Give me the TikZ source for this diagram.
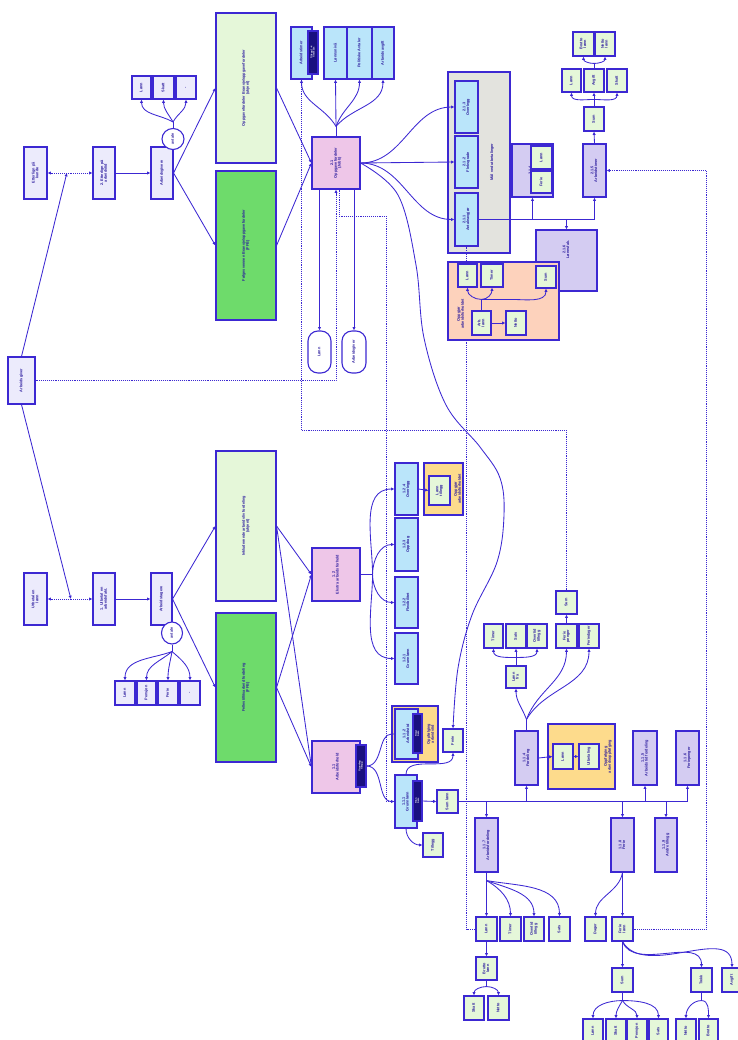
\documentclass[tikz,border=0pt]{standalone}
\usepackage{fontspec}
\setsansfont{Liberation Sans}
\usetikzlibrary{arrows.meta,positioning,calc,shapes.geometric,shapes.misc}
\definecolor{linec}{HTML}{3C28D2}
\definecolor{textc}{HTML}{2B1B9E}
\definecolor{lav}{HTML}{ECEBFC}
\definecolor{lgreen}{HTML}{E5F7D9}
\definecolor{dgreen}{HTML}{6EDB6B}
\definecolor{pink}{HTML}{EEC6E8}
\definecolor{lblue}{HTML}{BAE5FA}
\definecolor{grayc}{HTML}{E3E3DE}
\definecolor{salmon}{HTML}{FDD2BC}
\definecolor{orangec}{HTML}{FDDB8C}
\definecolor{purp}{HTML}{D4CCF2}
\definecolor{navy}{HTML}{1A1080}
\pgfdeclarelayer{bg}
\pgfdeclarelayer{mid}
\pgfsetlayers{bg,mid,main}
\renewcommand{\arraystretch}{0.8}
\newcommand{\vt}[1]{\rotatebox{90}{\begin{tabular}{@{}c@{}}#1\end{tabular}}}

\begin{document}
\begin{tikzpicture}[x=1pt,y=-1pt,
    bx/.style={draw=linec, line width=1.1pt, inner sep=0pt, text=textc,
      font=\sffamily\bfseries\fontsize{3.8}{4.3}\selectfont},
    sz/.style 2 args={minimum width=#1, minimum height=#2},
    nv/.style={bx, fill=navy, text=white, font=\sffamily\bfseries\fontsize{2.4}{2.8}\selectfont},
    lbl/.style={inner sep=0pt, text=textc, font=\sffamily\bfseries\fontsize{3.8}{4.3}\selectfont},
    ln/.style={draw=linec, line width=0.85pt},
    arr/.style={-{Latex[length=3.3pt,width=3.3pt]}},
    dots/.style={draw=linec, line width=0.85pt, dash pattern=on 1pt off 0.9pt}]
\useasboundingbox (0,0) rectangle (737,1040);

% --- Root and the two goals ---
\node[bx, fill=lav, sz={27}{47}] (agiver) at (21.5,380.5) {\vt{Arbeidsgiver}};
\node[bx, fill=lav, sz={23}{52}] (kunde) at (35.5,173) {\vt{Etterlign på\\kunde}};
\node[bx, fill=lav, sz={22}{52}] (arbtid) at (104,173) {\vt{2. Etterlign på\\arbeidstid}};
\node[bx, fill=lav, sz={22}{52}] (agivere) at (162,173) {\vt{Arbeidsgivere}};
\node[bx, ellipse, fill=white, sz={22}{21}] (circ1) at (173,139) {\vt{avtale}};
\node[bx, fill=lav, sz={19}{23}] (sk1) at (141.5,87.5) {\vt{Lønn}};
\node[bx, fill=lav, sz={21}{23}] (sk2) at (163.5,87.5) {\vt{Skatt}};
\node[bx, fill=lav, sz={20}{23}] (sk3) at (186,87.5) {\vt{-}};
\node[bx, fill=lav, sz={23}{52}] (lonn) at (35.5,599) {\vt{Utbetal en\\lønn}};
\node[bx, fill=lav, sz={22}{52}] (arbfakt) at (104,599) {\vt{1. Utbetal en\\arbeidsfakt.}};
\node[bx, fill=lav, sz={21}{52}] (atagere) at (161.5,599) {\vt{Arbeidstagere}};
\node[bx, ellipse, fill=white, sz={21}{22}] (circ2) at (172,633) {\vt{avtale}};
\node[bx, fill=lav, sz={20}{24}] (sb1) at (125,693) {\vt{Lønn}};
\node[bx, fill=lav, sz={19}{24}] (sb2) at (146.5,693) {\vt{Pensjon}};
\node[bx, fill=lav, sz={20}{24}] (sb3) at (168,693) {\vt{Ferie}};
\node[bx, fill=lav, sz={20}{24}] (sb4) at (190,693) {\vt{-}};

% --- Big boxes ---
\node[bx, fill=lgreen, sz={60}{150}] (lgreen1) at (246,88) {\vt{Oppgavefordeler Bransje/oppgavefordeler\\(ukjent)}};
\node[bx, fill=dgreen, sz={60}{149}] (green1) at (246,245.5) {\vt{Følgesvennen Bransje/oppgavefordeler\\(FFB)}};
\node[bx, fill=lgreen, sz={60}{150}] (lgreen2) at (246,526) {\vt{Inkluderende arbeidsliv fordeling\\(ukjent)}};
\node[bx, fill=dgreen, sz={60}{149}] (green2) at (246,687.5) {\vt{Fellestillitsarbeid fordeling\\(FFB)}};

% --- 2.1 ---
\node[bx, fill=pink, sz={48}{52}] (c21) at (336,163) {\vt{2.1\\Oppgavefordeler\\(Jobb)}};
\node[bx, fill=lblue, sz={21}{52}] (t1) at (301.5,53) {\vt{Arbeidstimer}};
\node[nv, sz={10}{43}] (nv1) at (313,52.5) {\vt{Tillegg 1--4\\Timesats}};
\node[bx, fill=lblue, sz={23}{52}] (t2) at (335.5,53) {\vt{Lønnsnivå}};
\node[bx, fill=lblue, sz={25}{52}] (t3) at (359.5,53) {\vt{Politiske Avtaler}};
\node[bx, fill=lblue, sz={22}{52}] (t4) at (383,53) {\vt{Arbeidsavgift}};
\node[bx, rounded corners=10pt, fill=white, sz={23}{42}] (ov1) at (319.5,352) {\vt{Lønn}};
\node[bx, rounded corners=10pt, fill=white, sz={24}{42}] (ov2) at (354,352) {\vt{Arbeidsgiver}};
\node[bx, fill=lblue, sz={23}{52}] (b213) at (466.5,107) {\vt{2.1.3\\Overlegg}};
\node[bx, fill=lblue, sz={23}{52}] (b212) at (466.5,162) {\vt{2.1.2\\Fleksgrade}};
\node[bx, fill=lblue, sz={23}{53}] (b211) at (466.5,219.5) {\vt{2.1.1\\Avtaleavgjør}};
\node[lbl] (graylbl) at (492,162) {\vt{Mål ved utbetalinger}};
\node[bx, fill=purp, sz={41}{53}] (p214) at (532.5,170.5) {\vt{2.1.4\\Forsvarsplan}\hspace{21pt}};
\node[bx, fill=lgreen, sz={21}{23}] (g214a) at (541.5,157.5) {\vt{Lønn}};
\node[bx, fill=lgreen, sz={21}{22}] (g214b) at (541.5,182) {\vt{Ferie}};
\node[bx, fill=purp, sz={23}{53}] (p215) at (594.5,170.5) {\vt{2.1.5\\Arbeidstimer}};
\node[bx, fill=lgreen, sz={20}{24}] (g215) at (594,119) {\vt{Sum}};
\node[bx, fill=lgreen, sz={19}{23}] (k1) at (571.5,80.5) {\vt{Lønn}};
\node[bx, fill=lgreen, sz={20}{23}] (k2) at (594,80.5) {\vt{Avgift}};
\node[bx, fill=lgreen, sz={20}{23}] (k3) at (617,80.5) {\vt{Skatt}};
\node[bx, fill=lgreen, sz={21}{24}] (k4) at (583.5,44) {\vt{Brutto\\lønn}};
\node[bx, fill=lgreen, sz={20}{24}] (k5) at (605,44) {\vt{Netto\\lønn}};
% salmon group
\node[bx, fill=lgreen, sz={19}{23}] (s1) at (467.5,275.5) {\vt{Lønn}};
\node[bx, fill=lgreen, sz={22}{23}] (s2) at (492,275.5) {\vt{Timer}};
\node[bx, fill=lgreen, sz={20}{22}] (s3) at (546,277) {\vt{Sum}};
\node[bx, fill=lgreen, sz={19}{24}] (s4) at (481.5,323) {\vt{Arb.\\lønn}};
\node[bx, fill=lgreen, sz={20}{24}] (s5) at (516,323) {\vt{Netto}};
\node[lbl] (sallbl) at (461,314) {\vt{Oppgjør\\arbeidsforholdet}};

% --- 1.2 and 1.1 ---
\node[bx, fill=pink, sz={48}{53}] (c12) at (336,574.5) {\vt{1.2\\Ekstra arbeidsforhold}};
\node[bx, fill=pink, sz={48}{52}] (c11) at (336,767) {\vt{1.1\\Arbeidsforhold}\hspace{10pt}};
\node[nv, sz={10}{42}] (nv2) at (361,766) {\vt{Grunnlag\\Tillegg}};
\node[bx, fill=lblue, sz={23}{52}] (b124) at (406.5,489) {\vt{1.2.4\\Overlegg}};
\node[bx, fill=lgreen, sz={21}{29}] (g124) at (439.5,490.5) {\vt{Lønn\\tillegg}};
\node[lbl] (or124lbl) at (458,489) {\vt{Oppgjør\\arbeidsforholdet}};
\node[bx, fill=lblue, sz={23}{53}] (b123) at (406.5,544.5) {\vt{1.2.3\\Oppdrag}};
\node[bx, fill=lblue, sz={23}{51}] (b122) at (406.5,602.5) {\vt{1.2.2\\Flexibilitet}};
\node[bx, fill=lblue, sz={23}{51}] (b121) at (406.5,658.5) {\vt{1.2.1\\Grunnlønn}};
\node[bx, fill=lblue, sz={23}{50}] (b112) at (406.5,734) {\vt{1.1.2\\Arbeidstid}\hspace{6pt}};
\node[nv, sz={9}{39}] (nv3) at (417.5,733.5) {\vt{Timer\\Sats}};
\node[lbl] (or112lbl) at (431,734) {\vt{Oppfølging\\arbeidstid}};
\node[bx, fill=lblue, sz={22}{53}] (b111) at (406,801.5) {\vt{1.1.1\\Grunnlønn}\hspace{6pt}};
\node[nv, sz={9}{40}] (nv4) at (417.5,801) {\vt{Trinn\\Sats}};
\node[bx, fill=lgreen, sz={20}{23}] (bx1) at (453,740.5) {\vt{Ferie}};
\node[bx, fill=lgreen, sz={21}{23}] (g111a) at (447.5,801.5) {\vt{Sum lønn}};
\node[bx, fill=lgreen, sz={20}{24}] (g111b) at (433,845) {\vt{Tillegg}};

% --- 1.1.x ---
\node[bx, fill=purp, sz={23}{54}] (p114) at (526.5,758) {\vt{1.1.4\\Fordeling}};
\node[bx, fill=lgreen, sz={20}{25}] (o1) at (563,756.5) {\vt{Lønn}};
\node[bx, fill=lgreen, sz={20}{25}] (o2) at (589,756.5) {\vt{Utbetaling}};
\node[lbl] (or114lbl) at (608,756.5) {\vt{Oppfølging\\arbeidsoppfølging}};
\node[bx, fill=purp, sz={24}{54}] (p115) at (645,758) {\vt{1.1.5\\Arbeidstid fordeling}};
\node[bx, fill=purp, sz={23}{54}] (p116) at (687.5,758) {\vt{1.1.6\\Feriepenger}};
\node[bx, fill=lgreen, sz={20}{22}] (g1) at (516,677) {\vt{Lønn\\fra}};
\node[bx, fill=lgreen, sz={19}{24}] (r1) at (493.5,636) {\vt{Timer}};
\node[bx, fill=lgreen, sz={20}{24}] (r2) at (516,636) {\vt{Sats}};
\node[bx, fill=lgreen, sz={20}{24}] (r3) at (537,636) {\vt{Overtid\\tillegg}};
\node[bx, fill=lgreen, sz={21}{24}] (r4) at (566.5,636) {\vt{Ferie\\penger}};
\node[bx, fill=lgreen, sz={20}{24}] (r5) at (589,636) {\vt{Feriedager}};
\node[bx, fill=lgreen, sz={21}{23}] (r6) at (566.5,602.5) {\vt{Sum}};
\node[bx, fill=purp, sz={23}{54}] (p117) at (486.5,845) {\vt{1.1.7\\Arbeidsfordeling}};
\node[bx, fill=purp, sz={23}{54}] (p118) at (622.5,845) {\vt{1.1.8\\Ferie}};
\node[bx, fill=purp, sz={22}{54}] (p119) at (666,845) {\vt{1.1.9\\Andre tillegg}};
\node[bx, fill=lgreen, sz={21}{24}] (q1) at (486.5,929) {\vt{Lønn}};
\node[bx, fill=lgreen, sz={21}{24}] (q2) at (510.5,929) {\vt{Timer}};
\node[bx, fill=lgreen, sz={20}{24}] (q3) at (534,929) {\vt{Overtid\\tillegg}};
\node[bx, fill=lgreen, sz={21}{24}] (q4) at (559.5,929) {\vt{Sats}};
\node[bx, fill=lgreen, sz={21}{23}] (q5) at (486.5,968.5) {\vt{Brutto\\lønn}};
\node[bx, fill=lgreen, sz={20}{24}] (q6) at (474,1008) {\vt{Skatt}};
\node[bx, fill=lgreen, sz={21}{24}] (q7) at (498.5,1008) {\vt{Netto}};
\node[bx, fill=lgreen, sz={21}{24}] (u1) at (595.5,929) {\vt{Dager}};
\node[bx, fill=lgreen, sz={21}{24}] (u2) at (622.5,929) {\vt{Ferie\\lønn}};
\node[bx, fill=lgreen, sz={21}{24}] (u3) at (622.5,980) {\vt{Sum}};
\node[bx, fill=lgreen, sz={21}{24}] (u4) at (701.5,980) {\vt{Trekk}};
\node[bx, fill=lgreen, sz={20}{24}] (u5) at (732,980) {\vt{Avgift}};
\node[bx, fill=lgreen, sz={20}{24}] (v1) at (593,1031) {\vt{Lønn}};
\node[bx, fill=lgreen, sz={20}{24}] (v2) at (616,1031) {\vt{Skatt}};
\node[bx, fill=lgreen, sz={20}{24}] (v3) at (637,1031) {\vt{Pensjon}};
\node[bx, fill=lgreen, sz={19}{24}] (v4) at (658.5,1031) {\vt{Sats}};
\node[bx, fill=lgreen, sz={20}{24}] (v5) at (686,1031) {\vt{Netto}};
\node[bx, fill=lgreen, sz={19}{24}] (v6) at (708.5,1031) {\vt{Brutto}};

% --- Frames and dotted links (behind) ---
\begin{pgfonlayer}{bg}
  \node[bx, fill=grayc, sz={62}{181}] (gray) at (479,162.5) {};
  \draw[dots,arr] (agiver.east) -| (c21.south);
  \draw[dots] (b111.west) -| (386,216) -| ([xshift=3pt]c21.south);
  \draw[dots] (r6.north) -- ++(0,-160) -| (t1.south);
  \draw[dots] (b211.south) |- (q1.west);
  \draw[dots,arr] (u2.east) -| ($(p215.east)+(100,0)$) -- (p215.east);
  \node[bx, fill=purp, sz={61}{61}] (p216) at (566.5,260.5) {\vt{2.1.6\\Lønnsfak.}\rule[-22pt]{0pt}{22pt}};
  \node[bx, fill=salmon, sz={111}{78}] (salmon) at (503.5,301) {};
  \node[bx, fill=orangec, sz={39}{52}] (or124) at (443.5,489) {};
  \node[bx, fill=orangec, sz={46}{56}] (or112) at (415,734) {};
  \node[bx, fill=orangec, sz={67}{65}] (or114) at (581.5,756.5) {};
\end{pgfonlayer}

% --- Connectors ---
\begin{pgfonlayer}{mid}
  % left side
  \coordinate (j1) at ($(kunde.east)!0.43!(arbtid.west)$);
  \coordinate (j2) at ($(lonn.east)!0.52!(arbfakt.west)$);
  \draw[dots,{Latex[length=3.3pt,width=3.3pt]}-{Latex[length=3.3pt,width=3.3pt]}] (kunde.east) -- (arbtid.west);
  \draw[dots,{Latex[length=3.3pt,width=3.3pt]}-{Latex[length=3.3pt,width=3.3pt]}] (lonn.east) -- (arbfakt.west);
  \draw[ln,arr] (agiver.north) -- (j1);
  \draw[ln,arr] (agiver.south) -- (j2);
  \draw[ln,arr] (arbtid.east) -- (agivere.west);
  \draw[ln,arr] (arbfakt.east) -- (atagere.west);
  \draw[ln,arr] (agivere.east) -- (lgreen1.west);
  \draw[ln,arr] (agivere.east) -- (green1.west);
  \draw[ln,arr] (atagere.east) -- (lgreen2.west);
  \draw[ln,arr] (atagere.east) -- (green2.west);
  \coordinate (jc1) at ($(circ1.north)+(0,-6)$);
  \draw[ln] (circ1.north) -- (jc1);
  \draw[ln,arr] (jc1) to[out=150,in=-90] (sk1.south);
  \draw[ln,arr] (jc1) to[out=120,in=-90] (sk2.south);
  \draw[ln,arr] (jc1) to[out=60,in=-90] (sk3.south);
  \coordinate (jc2) at ($(circ2.south)+(0,7)$);
  \draw[ln] (circ2.south) -- (jc2);
  \draw[ln,arr] (jc2) to[out=200,in=90] (sb1.north);
  \draw[ln,arr] (jc2) to[out=220,in=90] (sb2.north);
  \draw[ln,arr] (jc2) to[out=-100,in=90] (sb3.north);
  \draw[ln,arr] (jc2) to[out=-40,in=90] (sb4.north);
  % 2.1
  \draw[ln,arr] (lgreen1.east) -- (c21.west);
  \draw[ln,arr] (green1.east) -- (c21.west);
  \coordinate (j21) at ($(c21.north)+(0,-10)$);
  \draw[ln] (c21.north) -- (j21);
  \draw[ln,arr] (j21) to[out=120,in=-90] (t1.south);
  \draw[ln,arr] (j21) -- (t2.south);
  \draw[ln,arr] (j21) to[out=70,in=-90] (t3.south);
  \draw[ln,arr] (j21) to[out=50,in=-90] (t4.south);
  \draw[ln,arr] (ov1.north |- c21.south) -- (ov1.north);
  \draw[ln,arr] (ov2.north |- c21.south) -- (ov2.north);
  \draw[ln,arr] (c21.east) to[out=0,in=180] (b213.west);
  \draw[ln,arr] (c21.east) -- (b212.west);
  \draw[ln,arr] (c21.east) to[out=0,in=180] (b211.west);
  \draw[ln,arr] plot[smooth, tension=0.6] coordinates {(c21.east) (398,195) (416,265) (424,338) (446,405) (480,447) (500,478) (504,515) (497,562) (472,615) (458,668) (bx1.north)};
  \draw[ln] (b211.east) -- (p215.south |- b211.east);
  \draw[ln,arr] (p214.south |- b211.east) -- (p214.south);
  \draw[ln,arr] (p215.south |- b211.east) -- (p215.south);
  \draw[ln,arr] (p216.north |- b211.east) -- (p216.north);
  \draw[ln,arr] (p215.north) -- (g215.south);
  \coordinate (jg215) at ($(g215.north)+(0,-7)$);
  \draw[ln] (g215.north) -- (jg215);
  \draw[ln,arr] (jg215) to[out=180,in=-90] (k1.south);
  \draw[ln,arr] (jg215) -- (k2.south);
  \draw[ln,arr] (jg215) to[out=0,in=-90] (k3.south);
  \coordinate (jk2) at ($(k2.north)+(0,-5)$);
  \draw[ln] (k2.north) -- (jk2);
  \draw[ln,arr] (jk2) to[out=180,in=-90] (k4.south);
  \draw[ln,arr] (jk2) to[out=0,in=-90] (k5.south);
  % salmon group
  \coordinate (js4) at ($(s4.north)+(0,-11)$);
  \draw[ln] (s4.north) -- (js4);
  \draw[ln,arr] (js4) to[out=180,in=-90] (s1.south);
  \draw[ln,arr] (js4) to[out=0,in=-90] (s2.south);
  \draw[ln,arr] (js4) -- ++(30,0) to[out=0,in=-90] (s3.south);
  \draw[ln,arr] (s4.east) -- (s5.west);
  % 1.2 and 1.1
  \draw[ln,arr] (lgreen2.east) -- (c12.west);
  \draw[ln,arr] (lgreen2.east) -- (c11.west);
  \draw[ln,arr] (green2.east) -- (c12.west);
  \draw[ln,arr] (green2.east) -- (c11.west);
  \coordinate (j12) at ($(c12.east)+(12,0)$);
  \draw[ln] (c12.east) -- (j12);
  \draw[ln,arr] (j12) to[out=90,in=180] (b124.west);
  \draw[ln,arr] (j12) to[out=90,in=180] (b123.west);
  \draw[ln,arr] (j12) to[out=-90,in=180] (b122.west);
  \draw[ln,arr] (j12) to[out=-90,in=180] (b121.west);
  \draw[ln,arr] (b124.east) -- (g124.west);
  \draw[ln,arr] (nv2.east) to[out=0,in=180] (b112.west);
  \draw[ln,arr] (nv2.east) to[out=0,in=180] (b111.west);
  \draw[ln,arr] (b111.north) to[out=90,in=-90] (bx1.south);
  \draw[ln,arr] (b111.south) to[out=-90,in=180] (g111b.west);
  \draw[ln,arr] (nv4.east) -- (g111a.west);
  % bus of 1.1.1
  \draw[ln] (g111a.east) -- (p116.south |- g111a.east);
  \draw[ln,arr] (p114.south |- g111a.east) -- (p114.south);
  \draw[ln,arr] (p115.south |- g111a.east) -- (p115.south);
  \draw[ln,arr] (p116.south |- g111a.east) -- (p116.south);
  \draw[ln,arr] (p117.north |- g111a.east) -- (p117.north);
  \draw[ln,arr] (p118.north |- g111a.east) -- (p118.north);
  \draw[ln,arr] (p119.north |- g111a.east) -- (p119.north);
  % 1.1.4
  \draw[ln,arr] (p114.east) -- (o1.west);
  \draw[ln,arr] (o1.east) -- (o2.west);
  \coordinate (j114) at ($(p114.north)+(0,-11)$);
  \draw[ln] (p114.north) -- (j114);
  \draw[ln,arr] (j114) to[out=110,in=-90] (g1.south);
  \draw[ln,arr] (j114) to[out=70,in=-90] (r4.south);
  \draw[ln,arr] (j114) to[out=60,in=-90] (r5.south);
  \coordinate (jg1) at ($(g1.north)+(0,-8)$);
  \draw[ln] (g1.north) -- (jg1);
  \draw[ln,arr] (jg1) to[out=180,in=-90] (r1.south);
  \draw[ln,arr] (jg1) -- (r2.south);
  \draw[ln,arr] (jg1) to[out=0,in=-90] (r3.south);
  \draw[ln,arr] (r4.north) -- (r6.south);
  % 1.1.7
  \coordinate (j117) at ($(p117.south)+(0,8)$);
  \draw[ln] (p117.south) -- (j117);
  \draw[ln,arr] (j117) -- (q1.north);
  \draw[ln,arr] (j117) to[out=-30,in=90] (q2.north);
  \draw[ln,arr] (j117) to[out=-20,in=90] (q3.north);
  \draw[ln,arr] (j117) to[out=-10,in=90] (q4.north);
  \draw[ln,arr] (q1.south) -- (q5.north);
  \coordinate (jq5) at ($(q5.south)+(0,6)$);
  \draw[ln] (q5.south) -- (jq5);
  \draw[ln,arr] (jq5) to[out=180,in=90] (q6.north);
  \draw[ln,arr] (jq5) to[out=0,in=90] (q7.north);
  % 1.1.8
  \draw[ln,arr] (p118.south) -- (u2.north);
  \draw[ln,arr] (p118.south) to[out=-100,in=90] (u1.north);
  \draw[ln,arr] (u2.south) -- (u3.north);
  \draw[ln,arr] (u2.south) to[out=-70,in=90] (u4.north);
  \draw[ln,arr] (u2.south) to[out=-60,in=90] (u5.north);
  \coordinate (ju3) at ($(u3.south)+(0,8)$);
  \draw[ln] (u3.south) -- (ju3);
  \draw[ln,arr] (ju3) to[out=180,in=90] (v1.north);
  \draw[ln,arr] (ju3) to[out=-120,in=90] (v2.north);
  \draw[ln,arr] (ju3) to[out=-60,in=90] (v3.north);
  \draw[ln,arr] (ju3) to[out=0,in=90] (v4.north);
  \coordinate (ju4) at ($(u4.south)+(0,8)$);
  \draw[ln] (u4.south) -- (ju4);
  \draw[ln,arr] (ju4) to[out=180,in=90] (v5.north);
  \draw[ln,arr] (ju4) to[out=0,in=90] (v6.north);
\end{pgfonlayer}
\end{tikzpicture}
\end{document}
